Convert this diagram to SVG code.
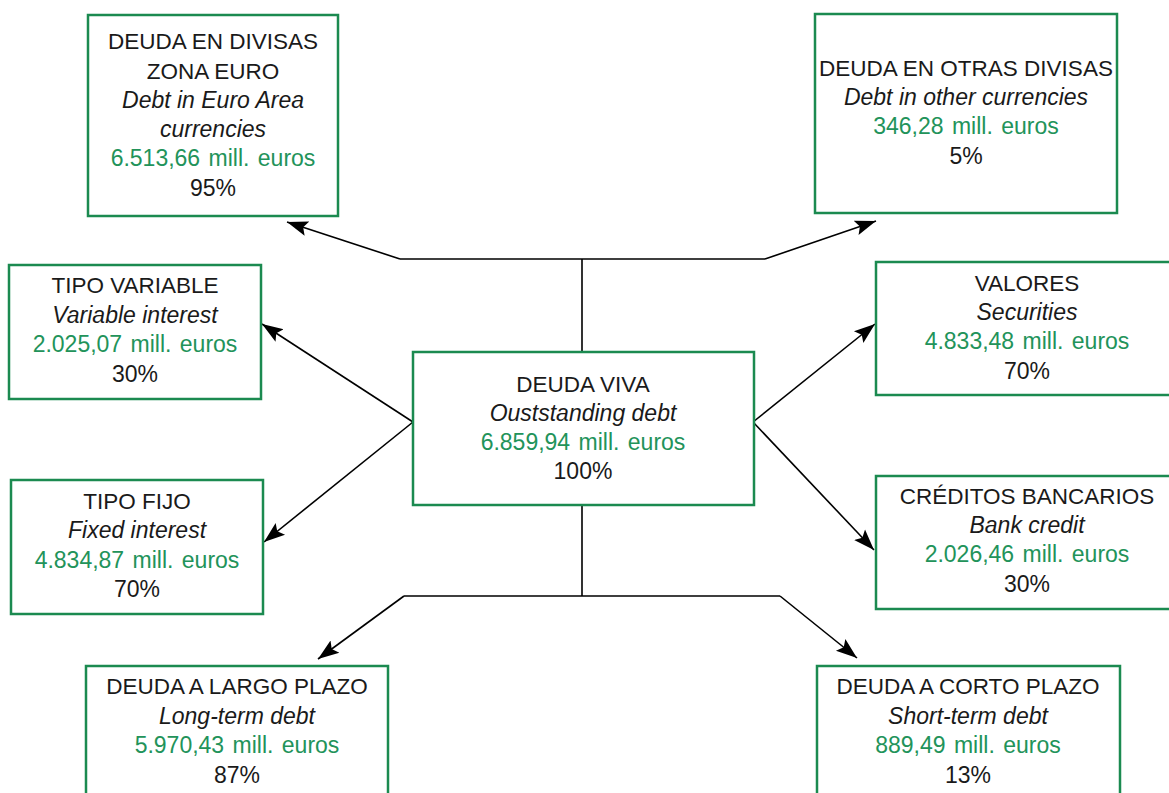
<svg xmlns="http://www.w3.org/2000/svg" width="1169" height="793" viewBox="0 0 1169 793">
<style>
.box{fill:#fff;stroke:#1b8a50;stroke-width:2.5}
text{font-family:"Liberation Sans",Arial,sans-serif;font-size:23px;text-anchor:middle;fill:#1a1a1a}
.cap{font-size:22.5px}
.it{font-style:italic}
.g{fill:#22935a;word-spacing:2px}
.con{stroke:#000;stroke-width:1.6;fill:none}
</style>
<defs>
<marker id="ah" markerUnits="userSpaceOnUse" markerWidth="22" markerHeight="18" viewBox="0 0 22 18" refX="21" refY="9" orient="auto">
<path d="M0,1.5 L21,9 L0,16.5 L4,9 Z" fill="#000"/>
</marker>
</defs>
<rect width="1169" height="793" fill="#fff"/>
<g id="connectors">
<path class="con" d="M582,352 V259 M400,259 H765"/>
<path class="con" d="M400,259 L287,222" marker-end="url(#ah)"/>
<path class="con" d="M765,259 L876,221" marker-end="url(#ah)"/>
<path class="con" d="M582,505 V596 M404,596 H780"/>
<path class="con" d="M404,596 L318,659" marker-end="url(#ah)"/>
<path class="con" d="M780,596 L857,658" marker-end="url(#ah)"/>
<path class="con" d="M413,422 L262,324" marker-end="url(#ah)"/>
<path class="con" d="M413,422 L264,542" marker-end="url(#ah)"/>
<path class="con" d="M753,422 L875,324" marker-end="url(#ah)"/>
<path class="con" d="M753,422 L874,550" marker-end="url(#ah)"/>
</g>
<g id="zona-euro">
<rect class="box" x="88" y="15" width="250" height="201"/>
<text class="cap" x="213" y="49">DEUDA EN DIVISAS</text>
<text class="cap" x="213" y="79">ZONA EURO</text>
<text class="it" x="213" y="108">Debt in Euro Area</text>
<text class="it" x="213" y="137">currencies</text>
<text class="g" x="213" y="166">6.513,66 mill. euros</text>
<text x="213" y="196">95%</text>
</g>
<g id="otras-divisas">
<rect class="box" x="815" y="14" width="302" height="199"/>
<text class="cap" x="966" y="76">DEUDA EN OTRAS DIVISAS</text>
<text class="it" x="966" y="105">Debt in other currencies</text>
<text class="g" x="966" y="134">346,28 mill. euros</text>
<text x="966" y="164">5%</text>
</g>
<g id="tipo-variable">
<rect class="box" x="9" y="265" width="252" height="134"/>
<text class="cap" x="135" y="293">TIPO VARIABLE</text>
<text class="it" x="135" y="323">Variable interest</text>
<text class="g" x="135" y="352">2.025,07 mill. euros</text>
<text x="135" y="382">30%</text>
</g>
<g id="tipo-fijo">
<rect class="box" x="11" y="480" width="252" height="134"/>
<text class="cap" x="137" y="509">TIPO FIJO</text>
<text class="it" x="137" y="538">Fixed interest</text>
<text class="g" x="137" y="568">4.834,87 mill. euros</text>
<text x="137" y="597">70%</text>
</g>
<g id="deuda-viva">
<rect class="box" x="413" y="352" width="341" height="153"/>
<text class="cap" x="583" y="392">DEUDA VIVA</text>
<text class="it" x="583" y="421">Ouststanding debt</text>
<text class="g" x="583" y="450">6.859,94 mill. euros</text>
<text x="583" y="479">100%</text>
</g>
<g id="valores">
<rect class="box" x="876" y="262" width="302" height="133"/>
<text class="cap" x="1027" y="291">VALORES</text>
<text class="it" x="1027" y="320">Securities</text>
<text class="g" x="1027" y="349">4.833,48 mill. euros</text>
<text x="1027" y="379">70%</text>
</g>
<g id="creditos">
<rect class="box" x="876" y="476" width="302" height="133"/>
<text class="cap" x="1027" y="504">CRÉDITOS BANCARIOS</text>
<text class="it" x="1027" y="533">Bank credit</text>
<text class="g" x="1027" y="562">2.026,46 mill. euros</text>
<text x="1027" y="592">30%</text>
</g>
<g id="largo-plazo">
<rect class="box" x="86" y="666" width="302" height="140"/>
<text class="cap" x="237" y="694">DEUDA A LARGO PLAZO</text>
<text class="it" x="237" y="724">Long-term debt</text>
<text class="g" x="237" y="753">5.970,43 mill. euros</text>
<text x="237" y="783">87%</text>
</g>
<g id="corto-plazo">
<rect class="box" x="817" y="666" width="303" height="140"/>
<text class="cap" x="968" y="694">DEUDA A CORTO PLAZO</text>
<text class="it" x="968" y="724">Short-term debt</text>
<text class="g" x="968" y="753">889,49 mill. euros</text>
<text x="968" y="783">13%</text>
</g>
</svg>
